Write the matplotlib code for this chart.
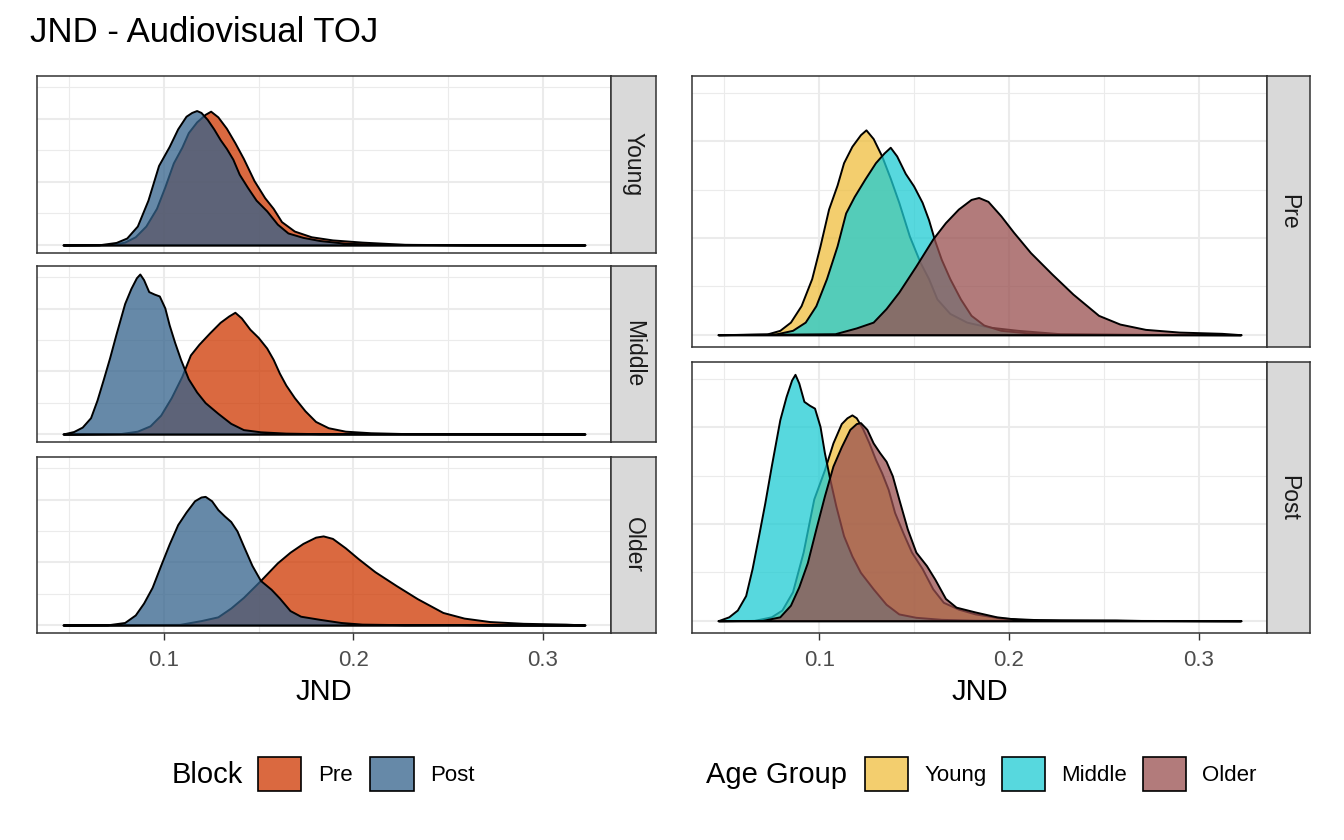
import matplotlib.pyplot as plt
from matplotlib.colors import to_rgba
from matplotlib.patches import Patch
from matplotlib.ticker import MultipleLocator

plt.rcParams['font.family'] = ['Liberation Sans', 'DejaVu Sans']

# ---------------------------------------------------------------
# Density curves (x = JND, d = density)
# ---------------------------------------------------------------
young_pre_x = [0.0467, 0.0724, 0.0792, 0.0848, 0.0904, 0.0960, 0.1004, 0.1049, 0.1094, 0.1128,
               0.1172, 0.1217, 0.1246, 0.1284, 0.1329, 0.1374, 0.1419, 0.1475, 0.1531, 0.1576,
               0.1620, 0.1688, 0.1777, 0.1889, 0.2046, 0.2270, 0.2600, 0.3222]
young_pre_d = [0, 0.07, 0.45, 1.3, 3.0, 5.8, 9.2, 13.0, 15.5, 17.8,
               19.5, 20.7, 21.2, 20.3, 18.5, 16.2, 13.7, 10.2, 7.5, 5.8,
               3.7, 2.2, 1.3, 0.8, 0.45, 0.1, 0.03, 0]

young_post_x = [0.0467, 0.0657, 0.0747, 0.0803, 0.0859, 0.0915, 0.0971, 0.1027, 0.1072, 0.1116,
                0.1146, 0.1172, 0.1195, 0.1228, 0.1262, 0.1296, 0.1329, 0.1363, 0.1397, 0.1441,
                0.1486, 0.1542, 0.1598, 0.1654, 0.1733, 0.1822, 0.1957, 0.2158, 0.2600, 0.3222]
young_post_d = [0, 0.03, 0.4, 1.1, 3.0, 7.1, 12.6, 15.6, 18.4, 20.4,
                21.0, 21.3, 21.0, 19.9, 18.4, 16.7, 15.3, 13.6, 11.2, 9.1,
                7.1, 5.4, 3.3, 1.9, 1.2, 0.7, 0.27, 0.1, 0.03, 0]

middle_pre_x = [0.0467, 0.0770, 0.0859, 0.0926, 0.0982, 0.1038, 0.1094, 0.1139, 0.1184, 0.1240,
                0.1296, 0.1341, 0.1374, 0.1408, 0.1453, 0.1497, 0.1542, 0.1576, 0.1609, 0.1643,
                0.1688, 0.1744, 0.1800, 0.1867, 0.1957, 0.2091, 0.2270, 0.3222]
middle_pre_d = [0, 0.07, 0.45, 1.3, 3.0, 5.8, 9.2, 12.6, 14.3, 16.1,
                17.8, 18.8, 19.4, 18.5, 16.7, 15.4, 13.7, 11.9, 9.7, 7.8,
                5.8, 3.7, 2.0, 1.0, 0.45, 0.2, 0.07, 0]

middle_post_x = [0.0467, 0.0523, 0.0568, 0.0612, 0.0646, 0.0680, 0.0713, 0.0747, 0.0792, 0.0825,
                 0.0854, 0.0872, 0.0892, 0.0919, 0.0948, 0.0975, 0.1004, 0.1027, 0.1056, 0.1087,
                 0.1128, 0.1172, 0.1217, 0.1284, 0.1352, 0.1419, 0.1509, 0.1643, 0.1822, 0.3222]
middle_post_d = [0, 0.4, 1.1, 2.6, 5.4, 8.8, 12.2, 16.0, 20.8, 23.2,
                 24.9, 25.5, 24.6, 22.7, 22.3, 22.0, 20.1, 17.4, 14.6, 11.9,
                 8.8, 6.7, 5.0, 3.3, 1.7, 0.7, 0.35, 0.14, 0.05, 0]

older_pre_x = [0.0467, 0.1083, 0.1195, 0.1284, 0.1352, 0.1419, 0.1509, 0.1598, 0.1665, 0.1733,
               0.1800, 0.1840, 0.1889, 0.1957, 0.2024, 0.2113, 0.2225, 0.2337, 0.2472, 0.2584,
               0.2719, 0.2897, 0.3121, 0.3222]
older_pre_d = [0, 0.1, 0.7, 1.3, 2.7, 4.4, 7.1, 9.9, 11.6, 13.0,
               14.0, 14.2, 13.8, 12.3, 10.6, 8.5, 6.3, 4.2, 2.0, 1.1,
               0.55, 0.27, 0.14, 0]

older_post_x = [0.0467, 0.0702, 0.0792, 0.0848, 0.0892, 0.0937, 0.0982, 0.1027, 0.1072, 0.1116,
                0.1161, 0.1195, 0.1217, 0.1251, 0.1284, 0.1318, 0.1352, 0.1385, 0.1419, 0.1464,
                0.1509, 0.1565, 0.1609, 0.1665, 0.1721, 0.1822, 0.1934, 0.2046, 0.2270, 0.2561,
                0.2700, 0.3222]
older_post_d = [0, 0.03, 0.4, 1.6, 3.5, 6.0, 9.5, 12.9, 16.0, 18.0,
                19.8, 20.4, 20.5, 19.8, 18.4, 17.4, 16.5, 15.0, 12.6, 9.5,
                7.1, 5.7, 4.3, 2.3, 1.4, 0.9, 0.4, 0.14, 0.05, 0.07,
                0.02, 0]

blocks = ["Pre", "Post"]
groups = ["Young", "Middle", "Older"]
jnd_ticks = [0.1, 0.2, 0.3]

block_colors = {"Pre": "#CE3700", "Post": "#33628B"}
group_colors = {"Young": "#EFBE3E", "Middle": "#1FCCD3", "Older": "#984F4F"}
ALPHA = 0.75

curves = {
    ("Young", "Pre"): (young_pre_x, young_pre_d),
    ("Young", "Post"): (young_post_x, young_post_d),
    ("Middle", "Pre"): (middle_pre_x, middle_pre_d),
    ("Middle", "Post"): (middle_post_x, middle_post_d),
    ("Older", "Pre"): (older_pre_x, older_pre_d),
    ("Older", "Post"): (older_post_x, older_post_d),
}

# shared scales (ggplot-style 5% expansion)
all_x = [v for xs, _ in curves.values() for v in xs]
all_d = [v for _, ds in curves.values() for v in ds]
x_lo, x_hi = min(all_x), max(all_x)
x_pad = 0.05 * (x_hi - x_lo)
y_max = max(all_d)

W, H = 1344, 840
fig = plt.figure(figsize=(W / 100, H / 100), dpi=100)


def box(x0, y0, x1, y1):
    # pixel box (top-left origin) -> figure fraction rect
    return [x0 / W, 1 - y1 / H, (x1 - x0) / W, (y1 - y0) / H]


def style_panel(ax, show_x):
    ax.set_xlim(x_lo - x_pad, x_hi + x_pad)
    ax.set_ylim(-0.05 * y_max, 1.05 * y_max)
    ax.xaxis.set_minor_locator(MultipleLocator(0.05))
    ax.yaxis.set_major_locator(MultipleLocator(10))
    ax.yaxis.set_minor_locator(MultipleLocator(5))
    ax.grid(which="major", color="#EBEBEB", lw=1.5)
    ax.grid(which="minor", color="#EBEBEB", lw=0.8)
    ax.set_axisbelow(True)
    ax.tick_params(axis="y", which="both", left=False, labelleft=False)
    ax.tick_params(axis="x", which="minor", bottom=False)
    ax.set_xticks(jnd_ticks, labels=[f"{t:.1f}" for t in jnd_ticks])
    if show_x:
        ax.tick_params(axis="x", which="major", length=5, width=1, color="#333333",
                       labelsize=16, labelcolor="#4D4D4D", pad=7.5)
        ax.set_xlabel("JND", fontsize=21, labelpad=5)
    else:
        ax.tick_params(axis="x", which="major", bottom=False, labelbottom=False)
    for sp in ax.spines.values():
        sp.set_color("#333333")
        sp.set_linewidth(1.1)


def add_strip(rect, label):
    s = fig.add_axes(rect)
    s.set_facecolor("#D9D9D9")
    s.set_xticks([])
    s.set_yticks([])
    for sp in s.spines.values():
        sp.set_color("#333333")
        sp.set_linewidth(1.1)
    s.text(0.5, 0.5, label, rotation=-90, ha="center", va="center",
           fontsize=16.5, color="#1A1A1A", transform=s.transAxes)


def draw_density(ax, x, d, color):
    ax.fill_between(x, d, 0, facecolor=to_rgba(color, ALPHA), edgecolor="black",
                    lw=1.4, joinstyle="round")


# left: one panel per age group, Pre vs Post
left_rows = [(76, 253), (266, 442), (457, 633)]
for i, g in enumerate(groups):
    y0, y1 = left_rows[i]
    ax = fig.add_axes(box(37, y0, 611, y1))
    for b in blocks:
        x, d = curves[(g, b)]
        draw_density(ax, x, d, block_colors[b])
    style_panel(ax, show_x=(i == len(groups) - 1))
    add_strip(box(611, y0, 656, y1), g)

# right: one panel per block, age groups overlaid
right_rows = [(76, 347), (362, 633)]
for i, b in enumerate(blocks):
    y0, y1 = right_rows[i]
    ax = fig.add_axes(box(692, y0, 1267, y1))
    for g in groups:
        x, d = curves[(g, b)]
        draw_density(ax, x, d, group_colors[g])
    style_panel(ax, show_x=(i == len(blocks) - 1))
    add_strip(box(1267, y0, 1310, y1), b)

fig.text(30 / W, 1 - 32 / H, "JND - Audiovisual TOJ", fontsize=25, va="center")

# legends
fig.text(172 / W, 1 - 775 / H, "Block", fontsize=21, va="center")
block_handles = [Patch(facecolor=to_rgba(block_colors[b], ALPHA), edgecolor="black", lw=1.2)
                 for b in blocks]
fig.legend(block_handles, blocks, loc="center left", bbox_to_anchor=(258 / W, 1 - 774 / H),
           ncol=2, frameon=False, fontsize=16, handlelength=1.95, handleheight=1.95,
           handletextpad=0.75, columnspacing=0.8, borderpad=0, borderaxespad=0)

fig.text(706 / W, 1 - 775 / H, "Age Group", fontsize=21, va="center")
group_handles = [Patch(facecolor=to_rgba(group_colors[g], ALPHA), edgecolor="black", lw=1.2)
                 for g in groups]
fig.legend(group_handles, groups, loc="center left", bbox_to_anchor=(865 / W, 1 - 774 / H),
           ncol=3, frameon=False, fontsize=16, handlelength=1.95, handleheight=1.95,
           handletextpad=0.72, columnspacing=0.7, borderpad=0, borderaxespad=0)

fig.savefig("out.png", dpi=100)
